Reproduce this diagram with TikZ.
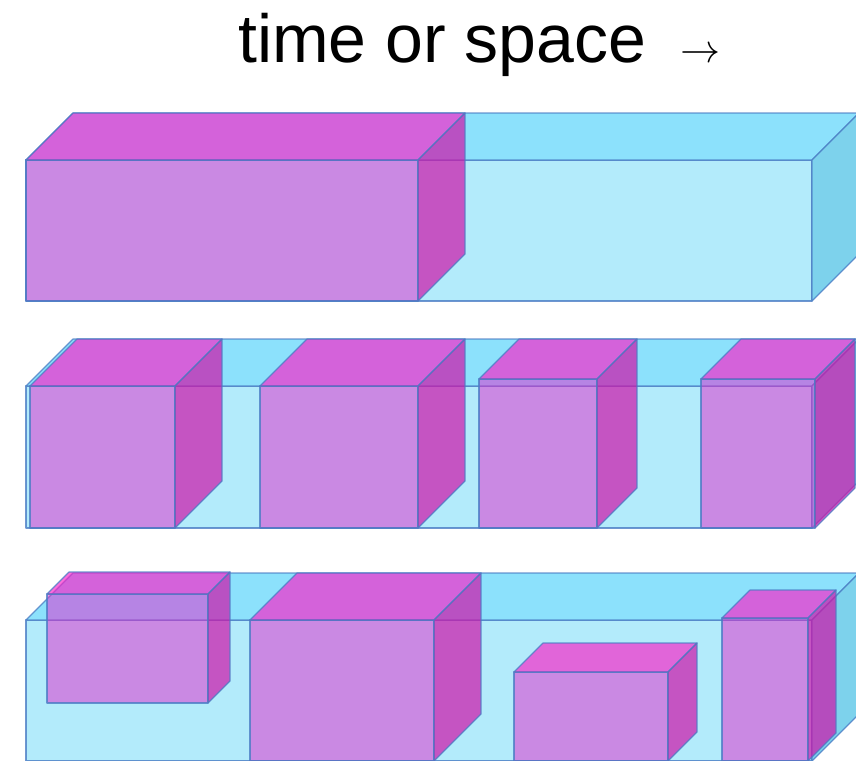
\RequirePackage{fix-cm}
\documentclass[tikz,border=0pt]{standalone}
\usepackage{fontspec}
\setmainfont{Liberation Sans}

\definecolor{cslabfront}{RGB}{179,235,251}
\definecolor{cslabtop}{RGB}{140,225,252}
\definecolor{cslabside}{RGB}{125,210,236}
\definecolor{cboxfront}{RGB}{225,41,205}
\definecolor{cboxtop}{RGB}{251,30,200}
\definecolor{cboxside}{RGB}{205,20,170}
\definecolor{edgeblue}{RGB}{74,124,196}

% #1 face prefix, #2 left, #3 top, #4 right, #5 bottom, #6 depth
\newcommand{\cuboid}[6]{%
  \filldraw[#1frontface] (#2,#3) rectangle (#4,#5);
  \filldraw[#1topface] (#2,#3) -- (#2+#6,#3-#6) -- (#4+#6,#3-#6) -- (#4,#3) -- cycle;
  \filldraw[#1sideface] (#4,#3) -- (#4+#6,#3-#6) -- (#4+#6,#5-#6) -- (#4,#5) -- cycle;
}

\begin{document}
\begin{tikzpicture}[
    x=1pt, y=-1pt,
    edge/.style={draw=edgeblue, draw opacity=0.8, line width=1.2pt, line join=round},
    slabfrontface/.style={edge, fill=cslabfront},
    slabtopface/.style={edge, fill=cslabtop},
    slabsideface/.style={edge, fill=cslabside},
    boxfrontface/.style={edge, fill=cboxfront, fill opacity=0.5},
    boxtopface/.style={edge, fill=cboxtop, fill opacity=0.65},
    boxsideface/.style={edge, fill=cboxside, fill opacity=0.7},
    title/.style={font=\fontsize{68}{82}\selectfont, inner sep=0pt}
]
\useasboundingbox (0,0) rectangle (856,760);
\clip (0,0) rectangle (856,760);
% Title
\node[title, anchor=base west] (title) at (238,63)
  {time or space\hspace{34pt}{\fontsize{40}{48}\selectfont$\rightarrow$}};
% Slabs
\foreach \top/\bottom in {160/301, 386/528, 620/761}
  \cuboid{slab}{26}{\top}{812}{\bottom}{47};
% Row 1: one long block
\cuboid{box}{26}{160}{418}{301}{47}
% Row 2: four blocks
\cuboid{box}{30}{386}{175}{528}{47}
\cuboid{box}{260}{386}{418}{528}{47}
\cuboid{box}{479}{379}{597}{528}{40}
\cuboid{box}{701}{379}{815}{528}{40}
% Row 3: blocks of different sizes
\cuboid{box}{47}{594}{208}{703}{22}
\cuboid{box}{250}{620}{434}{761}{47}
\cuboid{box}{514}{672}{668}{761}{29}
\cuboid{box}{722}{618}{808}{761}{28}
\end{tikzpicture}
\end{document}
